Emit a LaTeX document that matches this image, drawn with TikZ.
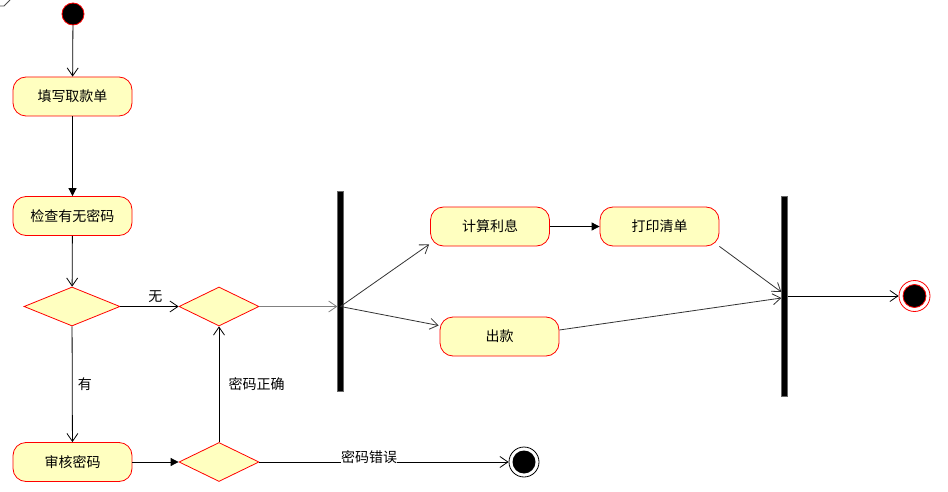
\documentclass[tikz,border=0pt]{standalone}
\usepackage{fontspec}
\setmainfont{Noto Sans CJK SC}
\usetikzlibrary{shapes.geometric,arrows.meta}
\definecolor{actfill}{HTML}{FFFFC0}
\tikzset{
  activity/.style={draw=red, fill=actfill, rounded corners=13pt, minimum width=119pt, minimum height=39pt, inner sep=0pt},
  decision/.style={diamond, draw=red, fill=actfill, minimum width=80pt, minimum height=39pt, inner sep=0pt},
  syncbar/.style={draw=black!60, fill=black, minimum width=5.5pt, inner sep=0pt},
  open/.style={-{Straight Barb[length=8pt,width=11pt]}},
  filled/.style={-{Triangle[length=8pt,width=8pt]}}
}
\begin{document}
\begin{tikzpicture}[x=1pt,y=-1pt, line width=0.8pt, every node/.style={font=\fontsize{14}{16}\selectfont}]
\useasboundingbox (0,0) rectangle (948,492);
\draw[black!70] (0,6) -- (4,6) -- (10,0);
% nodes
\node[circle, draw=red, fill=black, minimum size=22pt, inner sep=0pt] (start) at (73,14) {};
\node[activity] (fill) at (72.5,96.5) {填写取款单};
\node[activity] (check) at (72.5,216) {检查有无密码};
\node[decision, minimum width=96pt] (has) at (72,306.5) {};
\node[decision] (ok) at (219,306.5) {};
\node[activity] (verify) at (72.5,462) {审核密码};
\node[decision] (wrong) at (219,462) {};
\node[circle, draw=black, minimum size=30pt, inner sep=0pt] (stop) at (524,462) {};
\fill (stop) circle (11.5);
\node[syncbar, minimum height=200pt] (fork) at (340.5,291.5) {};
\node[activity] (interest) at (490,226.5) {计算利息};
\node[activity] (pay) at (499.5,336.5) {出款};
\node[activity] (print) at (659.5,226.5) {打印清单};
\node[syncbar, minimum height=200pt] (join) at (784.5,296) {};
\node[circle, draw=red, minimum size=31pt, inner sep=0pt] (final) at (914.5,296) {};
\node[circle, draw=red, fill=black, minimum size=23pt, inner sep=0pt] at (final) {};
\coordinate (forkin) at (ok -| fork);
% connectors
\draw[open] (start) -- (fill);
\draw[filled] (fill) -- (check);
\draw[open] (check) -- (has);
\draw[open] (has) -- node[above, pos=0.6] {无} (ok);
\draw[open] (has) -- node[right, xshift=2pt] {有} (verify);
\draw[filled] (verify) -- (wrong);
\draw[open] (wrong) -- node[right, xshift=6pt] {密码正确} (ok);
\draw[open] (wrong) -- node[above, pos=0.44, inner sep=0pt, yshift=-2pt, fill=white] {密码错误} (stop);
\draw[open, black!50] (ok) -- (ok -| fork.west);
\draw[open, black!80] (forkin) -- ([xshift=-1pt,yshift=2pt]interest.south west);
\draw[open, black!80] (forkin) -- ([xshift=-1pt,yshift=11pt]pay.west);
\draw[filled] (interest) -- (print);
\draw[open, black!80] (print.south east) -- ([yshift=4pt]join.west);
\draw[open, black!80] ([yshift=6.5pt]pay.east) -- ([yshift=-2pt]join.west);
\draw[open] (join.east |- final) -- (final);
\end{tikzpicture}
\end{document}
